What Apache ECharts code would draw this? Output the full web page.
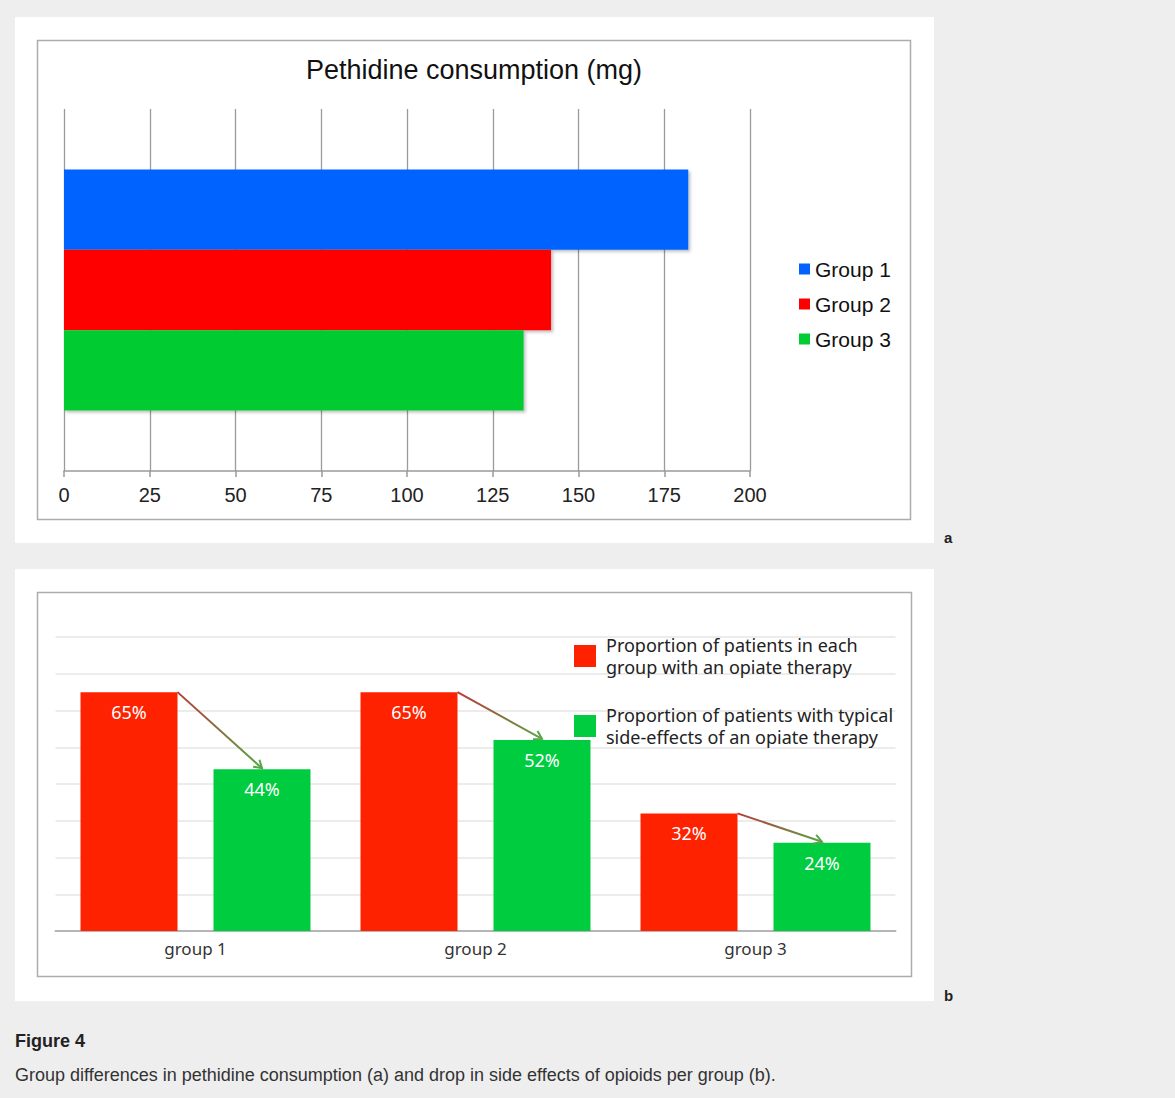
<!DOCTYPE html>
<html>
<head>
<meta charset="utf-8">
<title>Figure 4</title>
<script src="https://cdn.jsdelivr.net/npm/echarts@6/dist/echarts.min.js"></script>
<style>
  html, body { margin: 0; padding: 0; background: #eeeeee; }
  #fig { width: 1175px; height: 1098px; }
</style>
</head>
<body>
<div id="fig"></div>
<script>
// (a) pethidine consumption, mg
const pethidineGroups = ['Group 1', 'Group 2', 'Group 3'];
const pethidineMg = [182, 142, 134];
const pethidineColors = ['#0062ff', '#ff0000', '#00cc33'];

// (b) share of patients per group, %
const sideEffectGroups = ['group 1', 'group 2', 'group 3'];
const opiateTherapyPct = [65, 65, 32];
const sideEffectPct = [44, 52, 24];
const opiateName = 'Proportion of patients in each\ngroup with an opiate therapy';
const sideEffectName = 'Proportion of patients with typical\nside-effects of an opiate therapy';

const SANS = '"Liberation Sans", Arial, sans-serif';
const SANS_B = '"Noto Sans", "Open Sans", sans-serif';
const BAR_W = 97;      // bar width in panel b
const PAIR_GAP = 36;   // space between the two bars of a group

function renderArrow(params, api) {
  const base = api.coord([api.value(0), 0]);
  const from = api.coord([api.value(0), api.value(1)]);
  const to = api.coord([api.value(0), api.value(2)]);
  const sx = base[0] - PAIR_GAP / 2;               // top-right corner of red bar
  const ex = base[0] + PAIR_GAP / 2 + BAR_W / 2;   // top middle of green bar
  const sy = from[1], ey = to[1] - 1;
  const ang = Math.atan2(ey - sy, ex - sx);
  const hl = 9, spread = 0.55;
  const h1 = [ex - hl * Math.cos(ang - spread), ey - hl * Math.sin(ang - spread)];
  const h2 = [ex - hl * Math.cos(ang + spread), ey - hl * Math.sin(ang + spread)];
  const grad = new echarts.graphic.LinearGradient(sx, sy, ex, ey, [
    { offset: 0, color: '#b83838' },
    { offset: 1, color: '#5aa548' }
  ], true);
  return {
    type: 'group',
    children: [
      { type: 'line', shape: { x1: sx, y1: sy, x2: ex, y2: ey }, style: { stroke: grad, lineWidth: 2 } },
      { type: 'polyline', shape: { points: [h1, [ex, ey], h2] }, style: { stroke: '#5aa548', lineWidth: 2, fill: null } }
    ]
  };
}

const chart = echarts.init(document.getElementById('fig'), null, { renderer: 'svg' });

chart.setOption({
  backgroundColor: '#eeeeee',
  animation: false,
  graphic: [
    // panel backgrounds and frames
    { type: 'rect', z: -5, shape: { x: 15, y: 17, width: 919, height: 526 }, style: { fill: '#ffffff' } },
    { type: 'rect', z: -5, shape: { x: 15, y: 569, width: 919, height: 432 }, style: { fill: '#ffffff' } },
    { type: 'rect', z: -4, shape: { x: 37.5, y: 40.5, width: 873, height: 479 }, style: { fill: null, stroke: '#adadad', lineWidth: 1.5 } },
    { type: 'rect', z: -4, shape: { x: 37.5, y: 592.5, width: 874, height: 384 }, style: { fill: null, stroke: '#adadad', lineWidth: 1.5 } },
    // chart title (a)
    { type: 'text', style: { text: 'Pethidine consumption (mg)', x: 474, y: 70, textAlign: 'center', textVerticalAlign: 'middle', fontSize: 27, fontFamily: SANS, fill: '#111' } },
    // panel letters
    { type: 'text', style: { text: 'a', x: 944, y: 537, textVerticalAlign: 'middle', fontSize: 15, fontWeight: 'bold', fontFamily: SANS, fill: '#222' } },
    { type: 'text', style: { text: 'b', x: 944, y: 995, textVerticalAlign: 'middle', fontSize: 15, fontWeight: 'bold', fontFamily: SANS, fill: '#222' } },
    // caption
    { type: 'text', style: { text: 'Figure 4', x: 15, y: 1041, textVerticalAlign: 'middle', fontSize: 18, fontWeight: 'bold', fontFamily: SANS, fill: '#222' } },
    { type: 'text', style: { text: 'Group differences in pethidine consumption (a) and drop in side effects of opioids per group (b).', x: 15, y: 1075, textVerticalAlign: 'middle', fontSize: 18, fontFamily: SANS, fill: '#333' } }
  ],
  legend: [
    {
      data: pethidineGroups,
      orient: 'vertical',
      left: 799, top: 258.5, padding: 0,
      icon: 'rect', itemWidth: 11, itemHeight: 11, itemGap: 14,
      selectedMode: false,
      textStyle: { fontSize: 21, lineHeight: 21, fontFamily: SANS, color: '#111' }
    },
    {
      data: [opiateName, sideEffectName],
      orient: 'vertical',
      left: 574, top: 634, padding: 0,
      icon: 'rect', itemWidth: 22, itemHeight: 22, itemGap: 26,
      selectedMode: false,
      textStyle: { fontSize: 18, lineHeight: 22, fontFamily: SANS_B, color: '#222', padding: [0, 0, 0, 5] }
    }
  ],
  grid: [
    { left: 64, top: 109, width: 686, height: 362 },
    { left: 55.5, top: 637, width: 840, height: 294 }
  ],
  xAxis: [
    {
      gridIndex: 0, type: 'value', min: 0, max: 200, interval: 25,
      axisLine: { show: true, lineStyle: { color: '#9a9a9a', width: 1.5 } },
      axisTick: { show: true, length: 6, lineStyle: { color: '#9a9a9a', width: 1.5 } },
      splitLine: { show: true, lineStyle: { color: '#9a9a9a', width: 1.3 } },
      axisLabel: { fontSize: 20, fontFamily: SANS, color: '#222', margin: 14 }
    },
    {
      gridIndex: 1, type: 'category', data: sideEffectGroups,
      axisLine: { show: true, lineStyle: { color: '#b5b5b5', width: 2 } },
      axisTick: { show: false },
      axisLabel: { fontSize: 17, fontFamily: SANS_B, color: '#333', margin: 9 }
    }
  ],
  yAxis: [
    {
      gridIndex: 0, type: 'category', data: ['Pethidine'], inverse: true,
      axisLine: { show: false }, axisTick: { show: false }, axisLabel: { show: false }
    },
    {
      gridIndex: 1, type: 'value', min: 0, max: 80, interval: 10,
      axisLine: { show: false }, axisTick: { show: false }, axisLabel: { show: false },
      splitLine: { show: true, lineStyle: { color: '#e6e6e6', width: 1.5 } }
    }
  ],
  series: [
    ...pethidineGroups.map((name, i) => ({
      name: name,
      type: 'bar',
      xAxisIndex: 0, yAxisIndex: 0,
      data: [pethidineMg[i]],
      barGap: '0%',
      barCategoryGap: '33.4%',
      itemStyle: {
        color: pethidineColors[i],
        shadowColor: 'rgba(0,0,0,0.25)', shadowBlur: 3, shadowOffsetX: 2, shadowOffsetY: 2
      }
    })),
    {
      name: opiateName,
      type: 'bar',
      xAxisIndex: 1, yAxisIndex: 1,
      data: opiateTherapyPct,
      barWidth: BAR_W,
      barGap: (PAIR_GAP / BAR_W * 100).toFixed(1) + '%',
      itemStyle: { color: '#ff2200' },
      label: { show: true, position: 'insideTop', distance: 11, formatter: '{c}%', color: '#ffffff', fontSize: 18, fontFamily: SANS_B }
    },
    {
      name: sideEffectName,
      type: 'bar',
      xAxisIndex: 1, yAxisIndex: 1,
      data: sideEffectPct,
      barWidth: BAR_W,
      barGap: (PAIR_GAP / BAR_W * 100).toFixed(1) + '%',
      itemStyle: { color: '#00cc40' },
      label: { show: true, position: 'insideTop', distance: 11, formatter: '{c}%', color: '#ffffff', fontSize: 18, fontFamily: SANS_B }
    },
    {
      type: 'custom',
      xAxisIndex: 1, yAxisIndex: 1,
      z: 5,
      silent: true,
      encode: { x: 0, y: [1, 2] },
      data: sideEffectGroups.map((g, i) => [i, opiateTherapyPct[i], sideEffectPct[i]]),
      renderItem: renderArrow
    }
  ]
});
</script>
</body>
</html>
